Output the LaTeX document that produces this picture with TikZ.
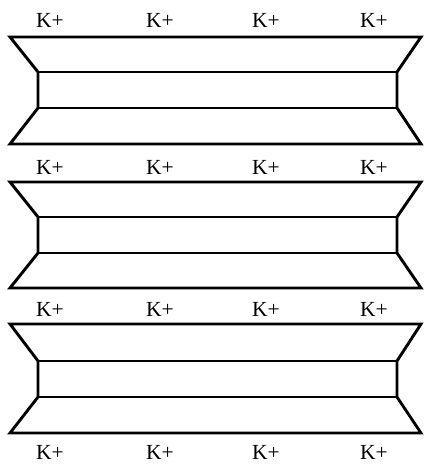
\documentclass[tikz,border=0pt]{standalone}
\usepackage{fontspec}
\setmainfont{Liberation Serif}
\begin{document}
\begin{tikzpicture}[x=1pt,y=-1pt,
  wall/.style={line width=2.9pt, line join=miter, draw=black},
  ion/.style={font=\fontsize{21.5}{24}\selectfont, inner sep=0pt, anchor=base}]
\useasboundingbox (0,0) rectangle (423,465);
\foreach \t/\a/\b/\c in {37/72/108/144, 182/217/253/288, 324/361/397/433}{
  \draw[wall] (10,\t) -- (421,\t) -- (397,\a) -- (397,\b) -- (421,\c) -- (10,\c) -- (38,\b) -- (38,\a) -- cycle;
  \draw[wall] (38,\a) -- (397,\a);
  \draw[wall] (38,\b) -- (397,\b);
}
\foreach \r/\y in {1/28, 2/174, 3/316, 4/459}{
  \foreach \c/\x in {1/50, 2/160, 3/266, 4/374}{
    \node[ion] (k\r\c) at (\x,\y) {K+};
  }
}
\end{tikzpicture}
\end{document}
